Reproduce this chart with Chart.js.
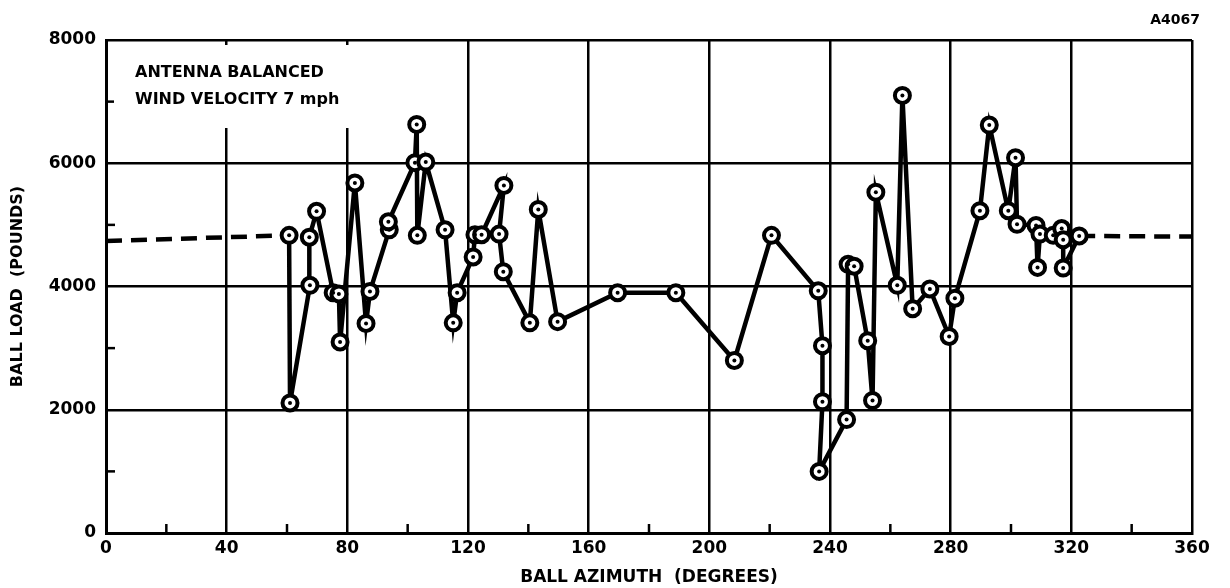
<!DOCTYPE html>
<html>
<head>
<meta charset="utf-8">
<title>Ball load vs ball azimuth</title>
<script src="https://cdn.jsdelivr.net/npm/chart.js@4"></script>
<style>
    html, body { margin: 0; padding: 0; background: #fff; }
    #chart { display: block; }
</style>
</head>
<body>
<canvas id="chart" width="1230" height="588"></canvas>
<script>
// Measured points, in the order the curve joins them
const azimuth = [60.7, 61.0, 67.6, 67.4, 69.8, 75.3, 77.2, 77.6, 82.5, 86.2,
    87.5, 93.9, 93.6, 102.4, 103.0, 103.2, 106.0, 112.4, 115.1, 116.4,
    121.7, 122.3, 124.5, 131.9, 130.3, 131.7, 140.5, 143.3, 149.7, 169.6,
    188.9, 208.3, 220.6, 236.1, 237.5, 237.5, 236.4, 245.5, 246.0, 248.0,
    252.5, 254.1, 255.2, 262.3, 264.0, 267.4, 273.1, 279.5, 281.4, 289.7,
    292.8, 299.1, 301.5, 302.0, 308.3, 308.8, 309.6, 314.0, 316.8, 317.3,
    317.3, 322.6];
const load = [4830, 2110, 4020, 4800, 5220, 3900, 3880, 3100, 5680, 3400,
    3920, 4920, 5050, 6010, 6630, 4830, 6020, 4920, 3410, 3900,
    4480, 4840, 4840, 5640, 4850, 4240, 3410, 5250, 3430, 3900,
    3900, 2800, 4830, 3930, 3040, 2130, 1000, 1840, 4360, 4330,
    3120, 2150, 5530, 4020, 7100, 3640, 3960, 3190, 3810, 5230,
    6620, 5230, 6090, 5010, 4990, 4310, 4850, 4830, 4940, 4760,
    4300, 4820];

// Dashed extensions at both ends
const leftDashAz = [0, 60.7];
const leftDashLoad = [4740, 4830];
const rightDashAz = [322.6, 360];
const rightDashLoad = [4820, 4810];

const xTicks = [0, 40, 80, 120, 160, 200, 240, 280, 320, 360];
const yTicks = [0, 2000, 4000, 6000, 8000];
const xMinor = [20, 60, 100, 140, 180, 220, 260, 300, 340];
const yMinor = [1000, 3000, 5000, 7000];

const noteLines = ['ANTENNA BALANCED', 'WIND VELOCITY 7 mph'];
const figureId = 'A4067';

const toXY = (xs, ys) => xs.map((x, i) => ({x: x, y: ys[i]}));

const FONT = '"DejaVu Sans", sans-serif';

// minor ticks, the note box and the figure number
const extras = {
    id: 'extras',
    beforeDatasetsDraw(chart) {
        const {ctx, chartArea, scales} = chart;
        ctx.save();
        ctx.strokeStyle = '#000';
        ctx.lineWidth = 2.5;
        xMinor.forEach(v => {
            const px = scales.x.getPixelForValue(v);
            ctx.beginPath();
            ctx.moveTo(px, chartArea.bottom);
            ctx.lineTo(px, chartArea.bottom - 9);
            ctx.stroke();
        });
        yMinor.forEach(v => {
            const py = scales.y.getPixelForValue(v);
            ctx.beginPath();
            ctx.moveTo(chartArea.left, py);
            ctx.lineTo(chartArea.left + 9, py);
            ctx.stroke();
        });

        // note box hides the grid lines behind it
        ctx.fillStyle = '#fff';
        ctx.fillRect(chartArea.left + 8, chartArea.top + 5, 240, 83);
        ctx.fillStyle = '#000';
        ctx.font = 'bold 16px ' + FONT;
        ctx.textBaseline = 'middle';
        ctx.textAlign = 'left';
        ctx.fillText(noteLines[0], chartArea.left + 29, chartArea.top + 33);
        ctx.fillText(noteLines[1], chartArea.left + 29, chartArea.top + 60);

        ctx.font = 'bold 14px ' + FONT;
        ctx.textAlign = 'right';
        ctx.fillText(figureId, chartArea.right + 8, chartArea.top - 20);
        ctx.restore();
    }
};

new Chart(document.getElementById('chart'), {
    type: 'scatter',
    data: {
        datasets: [
            {
                // center dots of the markers
                data: toXY(azimuth, load),
                showLine: false,
                pointRadius: 2,
                pointBackgroundColor: '#000',
                pointBorderWidth: 0,
                order: 0
            },
            {
                data: toXY(azimuth, load),
                showLine: true,
                borderColor: '#000',
                borderWidth: 4.5,
                pointRadius: 7.5,
                pointBorderWidth: 4,
                pointBorderColor: '#000',
                pointBackgroundColor: '#fff',
                order: 1
            },
            {
                data: toXY(leftDashAz, leftDashLoad),
                showLine: true,
                borderColor: '#000',
                borderWidth: 4.5,
                borderDash: [16, 9],
                pointRadius: 0,
                order: 2
            },
            {
                data: toXY(rightDashAz, rightDashLoad),
                showLine: true,
                borderColor: '#000',
                borderWidth: 4.5,
                borderDash: [16, 9],
                pointRadius: 0,
                order: 2
            }
        ]
    },
    options: {
        responsive: false,
        animation: false,
        layout: { padding: { top: 40, right: 38, left: 0, bottom: 0 } },
        scales: {
            x: {
                type: 'linear',
                min: 0,
                max: 360,
                afterBuildTicks: s => { s.ticks = xTicks.map(v => ({value: v})); },
                afterFit: s => { s.height = 55; },
                grid: { color: '#000', lineWidth: 2.5, drawTicks: false },
                border: { color: '#000', width: 3 },
                ticks: {
                    color: '#000',
                    font: { family: FONT, size: 17, weight: 'bold' },
                    padding: 5,
                    maxRotation: 0,
                    callback: v => String(v)
                },
                title: {
                    display: true,
                    text: 'BALL AZIMUTH  (DEGREES)',
                    color: '#000',
                    font: { family: FONT, size: 17, weight: 'bold' },
                    padding: { top: 0, bottom: 0 }
                }
            },
            y: {
                min: 0,
                max: 8000,
                afterBuildTicks: s => { s.ticks = yTicks.map(v => ({value: v})); },
                afterFit: s => { s.width = 106; },
                grid: { color: '#000', lineWidth: 2.5, drawTicks: false },
                border: { color: '#000', width: 3 },
                ticks: {
                    color: '#000',
                    font: { family: FONT, size: 17, weight: 'bold' },
                    padding: 10,
                    callback: v => String(v)
                },
                title: {
                    display: true,
                    text: 'BALL LOAD  (POUNDS)',
                    color: '#000',
                    font: { family: FONT, size: 16, weight: 'bold' },
                    padding: { top: 8, bottom: 0 }
                }
            }
        },
        plugins: {
            legend: { display: false },
            tooltip: { enabled: false }
        }
    },
    plugins: [extras]
});
</script>
</body>
</html>
